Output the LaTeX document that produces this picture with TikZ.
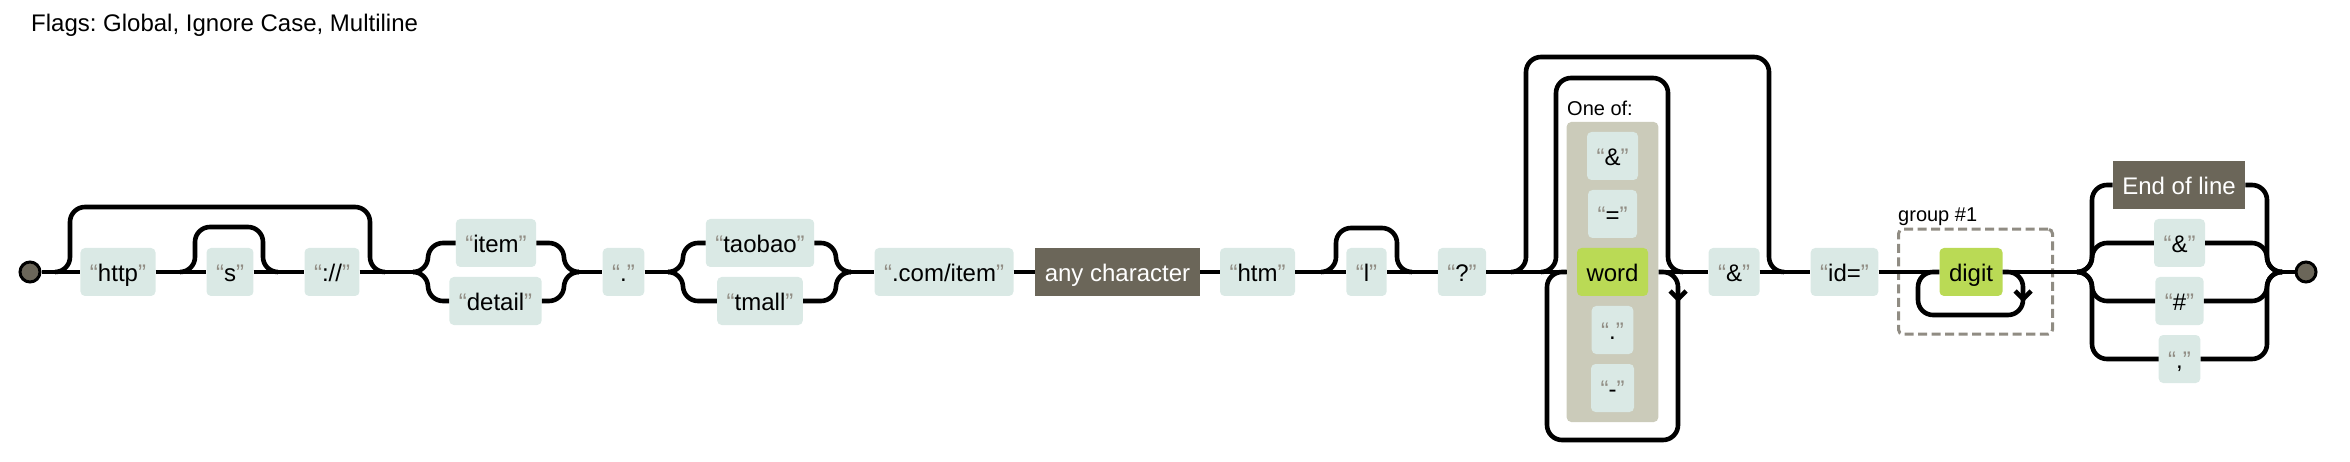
\documentclass[tikz,border=0pt]{standalone}
\usepackage{fontspec}
\setmainfont{Liberation Sans}
\frenchspacing
\definecolor{litfill}{HTML}{DAE9E5}
\definecolor{quotegray}{HTML}{908C83}
\definecolor{anchorfill}{HTML}{6B6659}
\definecolor{escfill}{HTML}{BADA55}
\definecolor{setfill}{HTML}{CBCBBA}
\newcommand{\litq}[1]{\textcolor{quotegray}{“}#1\textcolor{quotegray}{”}}

\begin{document}
\begin{tikzpicture}[x=1pt,y=-1pt,
        line/.style={line width=4.6pt},
        loop/.style={line,rounded corners=15pt},
        box/.style={inner xsep=9.5pt,inner ysep=0pt,minimum height=48pt,text height=18.5pt,text depth=0pt,font=\fontsize{24}{28}\selectfont},
        lit/.style={box,fill=litfill,rounded corners=4.5pt},
        esc/.style={box,fill=escfill,rounded corners=4.5pt},
        dark/.style={box,fill=anchorfill,text=white},
        term/.style={circle,draw,line width=3pt,fill=anchorfill,minimum size=20pt,inner sep=0pt},
        small/.style={font=\fontsize{20}{24}\selectfont,anchor=base west,inner sep=0pt}]
        \useasboundingbox(0,0)rectangle(2350,462);
        \node[font=\fontsize{24}{28}\selectfont,anchor=base west,inner sep=0pt](flags)at(31,32){Flags: Global, Ignore Case, Multiline};

        % literals along the main line
        \node[term](st)at(30,272){};
        \node[lit](http)at(118,272){\litq{http}};
        \node[lit](s)at(230,272){\litq{s}};
        \node[lit](sl)at(332,272){\litq{://}};
        \node[lit](item)at(496,243){\litq{item}};
        \node[lit](detail)at(495.5,301){\litq{detail}};
        \node[lit](dot)at(623.5,272){\litq{.}};
        \node[lit](taobao)at(760,243){\litq{taobao}};
        \node[lit](tmall)at(760,301){\litq{tmall}};
        \node[lit](com)at(944,272){\litq{.com/item}};
        \node[dark,minimum width=165pt,inner xsep=0pt](anyc)at(1117.5,272){any character};
        \node[lit](htm)at(1257.5,272){\litq{htm}};
        \node[lit](l)at(1366.5,272){\litq{l}};
        \node[lit](q)at(1462,272){\litq{?}};

        % one of
        \node[fill=setfill,rounded corners=4.5pt,minimum width=91.6pt,minimum height=300pt,inner sep=0pt](set)at(1612.5,272){};
        \node[small](oneof)at(1567,116){One of:};
        \node[lit](s1)at(1612.5,156){\litq{\&}};
        \node[lit](s2)at(1612.5,214){\litq{=}};
        \node[esc](word)at(1612.5,272){word};
        \node[lit](s3)at(1612.5,330){\litq{.}};
        \node[lit](s4)at(1612.5,388){\litq{-}};
        \node[lit](amp)at(1734,272){\litq{\&}};
        \node[lit](id)at(1844.5,272){\litq{id=}};

        % group #1
        \node[draw=quotegray,line width=3pt,dash pattern=on 9pt off 4.5pt,rounded corners=4.5pt,minimum width=154pt,minimum height=105pt,inner sep=0pt](grp)at(1975.5,281.7){};
        \node[small](grplab)at(1898,222){group \#1};
        \node[esc](digit)at(1971,272){digit};

        % last alternation
        \node[dark](eol)at(2179,185){End of line};
        \node[lit](e1)at(2179.5,243){\litq{\&}};
        \node[lit](e2)at(2179.5,301){\litq{\#}};
        \node[lit](e3)at(2179.5,359){\litq{,}};
        \node[term](en)at(2306,272){};

        \coordinate(a1)at(55,272);\coordinate(a2)at(385,272);
        \coordinate(b1)at(180,272);\coordinate(b2)at(278,272);
        \coordinate(sp1)at(413,272);\coordinate(mg1)at(579,272);
        \coordinate(sp2)at(668,272);\coordinate(mg2)at(851,272);
        \coordinate(c1)at(1321,272);\coordinate(c2)at(1412,272);
        \coordinate(d1)at(1511,272);\coordinate(d2)at(1784,272);
        \coordinate(f1)at(1541,272);\coordinate(f2)at(1683,272);
        \coordinate(sp3)at(2077,272);\coordinate(mg3)at(2282,272);

        \draw[line](st)--(http)--(s)--(sl)--(sp1);
        \draw[line](mg1)--(dot)--(sp2);
        \draw[line](mg2)--(com)--(anyc)--(htm)--(l)--(q)--(set);
        \draw[line](set)--(amp)--(id)--(digit)--(sp3);
        \draw[line](mg3)--(en);

        % branches
        \draw[loop](sp1)-|(428,243)--(item.west);
        \draw[loop](sp1)-|(428,301)--(detail.west);
        \draw[loop](item.east)-|(564,272)--(mg1);
        \draw[loop](detail.east)-|(564,272)--(mg1);
        \draw[loop](sp2)-|(683,243)--(taobao.west);
        \draw[loop](sp2)-|(683,301)--(tmall.west);
        \draw[loop](taobao.east)-|(836,272)--(mg2);
        \draw[loop](tmall.east)-|(836,272)--(mg2);
        \draw[loop](sp3)-|(2092,185)--(eol.west);
        \draw[loop](sp3)-|(2092,243)--(e1.west);
        \draw[loop](sp3)-|(2092,301)--(e2.west);
        \draw[loop](sp3)-|(2092,359)--(e3.west);
        \draw[loop](eol.east)-|(2267,272)--(mg3);
        \draw[loop](e1.east)-|(2267,272)--(mg3);
        \draw[loop](e2.east)-|(2267,272)--(mg3);
        \draw[loop](e3.east)-|(2267,272)--(mg3);

        % skips and repeats
        \draw[loop](a1)-|(70,207)-|(370,272)--(a2);
        \draw[loop](b1)-|(195,227)-|(263,272)--(b2);
        \draw[loop](c1)-|(1336,228)-|(1397,272)--(c2);
        \draw[loop](d1)-|(1526,57)-|(1769,272)--(d2);
        \draw[loop](f1)-|(1556,78)-|(1668,272)--(f2);
        \draw[loop](set.east)-|(1678,440)-|(1547,272)--(set.west);
        \draw[line](1670,291)--(1678,299)--(1686,291);
        \draw[loop](digit.east)-|(2023,315)-|(1918,272)--(digit.west);
        \draw[line](2015,291)--(2023,299)--(2031,291);
    \end{tikzpicture}
\end{document}
